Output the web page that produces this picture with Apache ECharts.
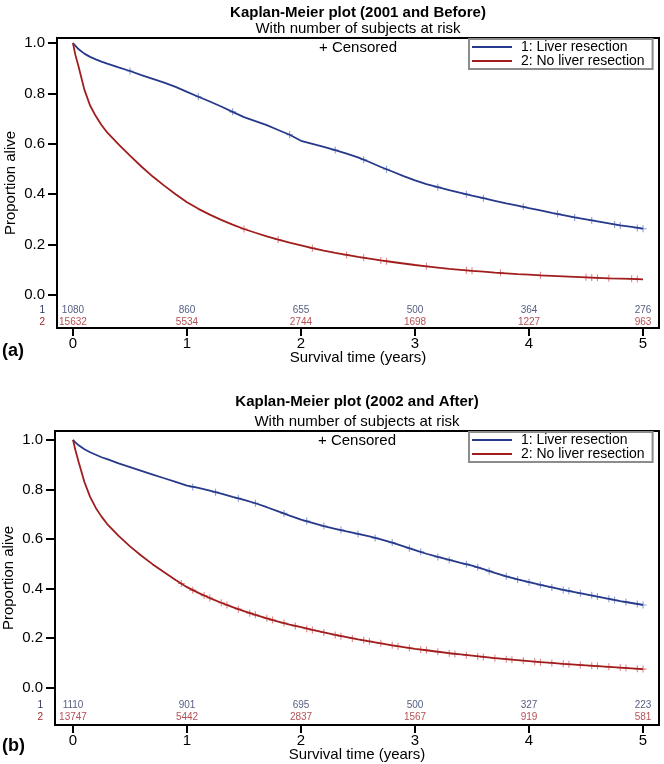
<!DOCTYPE html>
<html>
<head>
<meta charset="utf-8">
<script src="https://cdn.jsdelivr.net/npm/echarts@6/dist/echarts.min.js"></script>
<style>
html,body{margin:0;padding:0;background:#fff;}
#chart{width:664px;height:764px;}
</style>
</head>
<body>
<div id="chart"></div>
<script>
// ---------- data ----------
const groupNames = ['1: Liver resection', '2: No liver resection'];
const xTicks = [0, 1, 2, 3, 4, 5];
const yTicks = [0, 0.2, 0.4, 0.6, 0.8, 1.0];
const riskTimes = [0, 1, 2, 3, 4, 5];

// survival time grid (years)
const T = [0, 0.02, 0.05, 0.1, 0.15, 0.2, 0.25, 0.3, 0.4, 0.5, 0.6, 0.7, 0.8, 0.9, 1.0,
  1.1, 1.2, 1.3, 1.4, 1.5, 1.6, 1.7, 1.8, 1.9, 2.0, 2.1, 2.2, 2.3, 2.4, 2.5, 2.6, 2.7, 2.8, 2.9, 3.0,
  3.1, 3.2, 3.3, 3.4, 3.5, 3.6, 3.7, 3.8, 3.9, 4.0, 4.1, 4.2, 4.3, 4.4, 4.5, 4.6, 4.7, 4.8, 4.9, 5.0];

// Panel (a) 2001 and before
const survA1 = [1.000, 0.990, 0.975, 0.958, 0.945, 0.935, 0.926, 0.918, 0.903, 0.889, 0.873, 0.858, 0.843, 0.826, 0.806,
  0.787, 0.768, 0.748, 0.727, 0.706, 0.690, 0.674, 0.655, 0.636, 0.612, 0.600, 0.588, 0.575, 0.561, 0.546, 0.528, 0.508, 0.490, 0.472, 0.455,
  0.440, 0.428, 0.416, 0.405, 0.394, 0.384, 0.374, 0.364, 0.355, 0.345, 0.336, 0.326, 0.317, 0.308, 0.300, 0.292, 0.284, 0.276, 0.270, 0.263];
const survA2 = [1.000, 0.955, 0.905, 0.815, 0.752, 0.710, 0.675, 0.645, 0.598, 0.553, 0.510, 0.470, 0.434, 0.400, 0.368,
  0.342, 0.319, 0.298, 0.279, 0.262, 0.247, 0.233, 0.220, 0.208, 0.197, 0.186, 0.176, 0.167, 0.159, 0.151, 0.144, 0.137, 0.131, 0.125, 0.119,
  0.114, 0.109, 0.104, 0.100, 0.096, 0.093, 0.089, 0.086, 0.083, 0.081, 0.078, 0.076, 0.074, 0.072, 0.070, 0.068, 0.066, 0.065, 0.064, 0.062];
const censorA1 = [[0.5, 0.889], [1.1, 0.787], [1.4, 0.727], [1.9, 0.636], [2.3, 0.575], [2.55, 0.537], [2.75, 0.499],
  [3.2, 0.428], [3.45, 0.400], [3.6, 0.384], [3.95, 0.350], [4.25, 0.322], [4.4, 0.308], [4.55, 0.296], [4.75, 0.280],
  [4.8, 0.276], [4.95, 0.266], [5.0, 0.263]];
const censorA2 = [[1.5, 0.262], [1.8, 0.220], [2.1, 0.186], [2.4, 0.159], [2.55, 0.148], [2.7, 0.137], [2.75, 0.134],
  [3.1, 0.114], [3.45, 0.098], [3.5, 0.096], [3.75, 0.088], [4.1, 0.078], [4.5, 0.070], [4.55, 0.069], [4.6, 0.068],
  [4.7, 0.066], [4.9, 0.064], [4.95, 0.063]];
const riskA1 = [1080, 860, 655, 500, 364, 276];
const riskA2 = [15632, 5534, 2744, 1698, 1227, 963];

// Panel (b) 2002 and after
const survB1 = [1.000, 0.990, 0.978, 0.962, 0.950, 0.940, 0.930, 0.922, 0.905, 0.890, 0.875, 0.860, 0.845, 0.830, 0.815,
  0.806, 0.795, 0.783, 0.770, 0.758, 0.744, 0.728, 0.711, 0.694, 0.678, 0.665, 0.652, 0.641, 0.630, 0.620, 0.610, 0.598, 0.585, 0.570, 0.555,
  0.540, 0.527, 0.515, 0.503, 0.492, 0.478, 0.463, 0.449, 0.436, 0.425, 0.414, 0.404, 0.394, 0.385, 0.376, 0.367, 0.358, 0.349, 0.341, 0.333];
const survB2 = [1.000, 0.960, 0.910, 0.830, 0.770, 0.725, 0.690, 0.660, 0.612, 0.570, 0.532, 0.497, 0.465, 0.434, 0.405,
  0.382, 0.361, 0.342, 0.324, 0.308, 0.293, 0.279, 0.266, 0.254, 0.243, 0.232, 0.222, 0.212, 0.203, 0.194, 0.186, 0.178, 0.170, 0.163, 0.156,
  0.150, 0.144, 0.138, 0.133, 0.128, 0.123, 0.118, 0.114, 0.110, 0.106, 0.102, 0.099, 0.095, 0.092, 0.089, 0.086, 0.083, 0.080, 0.077, 0.074];
const censorB1 = [[1.05, 0.810], [1.25, 0.789], [1.45, 0.764], [1.6, 0.744], [1.85, 0.703], [2.05, 0.672], [2.2, 0.652],
  [2.35, 0.636], [2.5, 0.620], [2.65, 0.604], [2.8, 0.585], [2.95, 0.562], [3.05, 0.548], [3.2, 0.527], [3.3, 0.515],
  [3.45, 0.498], [3.55, 0.485], [3.65, 0.470], [3.8, 0.449], [3.9, 0.436], [4.0, 0.425], [4.1, 0.414], [4.2, 0.404],
  [4.3, 0.394], [4.35, 0.390], [4.45, 0.380], [4.55, 0.372], [4.6, 0.367], [4.7, 0.358], [4.75, 0.353], [4.85, 0.345],
  [4.95, 0.337], [5.0, 0.333]];
const censorB2 = [[0.95, 0.420], [1.05, 0.393], [1.15, 0.371], [1.2, 0.361], [1.3, 0.342], [1.35, 0.333], [1.45, 0.316],
  [1.55, 0.300], [1.6, 0.293], [1.7, 0.279], [1.75, 0.272], [1.85, 0.260], [1.95, 0.248], [2.05, 0.237], [2.1, 0.232],
  [2.2, 0.222], [2.3, 0.212], [2.35, 0.207], [2.45, 0.198], [2.55, 0.190], [2.6, 0.186], [2.7, 0.178], [2.8, 0.170],
  [2.85, 0.166], [2.95, 0.159], [3.05, 0.153], [3.1, 0.150], [3.2, 0.144], [3.3, 0.138], [3.35, 0.135], [3.45, 0.130],
  [3.55, 0.125], [3.6, 0.123], [3.7, 0.118], [3.8, 0.114], [3.85, 0.112], [3.95, 0.108], [4.05, 0.104], [4.1, 0.102],
  [4.2, 0.099], [4.3, 0.095], [4.35, 0.093], [4.45, 0.090], [4.55, 0.087], [4.6, 0.086], [4.7, 0.083], [4.8, 0.080],
  [4.85, 0.078], [4.95, 0.075], [5.0, 0.074]];
const riskB1 = [1110, 901, 695, 500, 327, 223];
const riskB2 = [13747, 5442, 2837, 1567, 919, 581];

// ---------- styling / layout ----------
const FONT = '"Liberation Sans", Arial, Helvetica, sans-serif';
const C1 = '#27398a', C2 = '#a11d1d';
const CEN1 = '#7088cc', CEN2 = '#d66b6b';
const RISK1 = '#2b3463', RISK2 = '#a0262a';
const PLUS = 'path://M4.2,0H5.8V4.2H10V5.8H5.8V10H4.2V5.8H0V4.2H4.2Z';

const panels = [
  { title: 'Kaplan-Meier plot (2001 and Before)', tag: '(a)', grid: { left: 57, top: 38, width: 602, height: 290 },
    xmin: -0.14, xmax: 5.14, ymin: -0.131, ymax: 1.02, row1: -0.06, row2: -0.107,
    s1: survA1, s2: survA2, c1: censorA1, c2: censorA2, r1: riskA1, r2: riskA2,
    titleTop: 5, subTop: 21, cenTop: 40, legendTop: 39, tagTop: 342 },
  { title: 'Kaplan-Meier plot (2002 and After)', tag: '(b)', grid: { left: 55, top: 431, width: 604, height: 294 },
    xmin: -0.158, xmax: 5.14, ymin: -0.152, ymax: 1.036, row1: -0.072, row2: -0.12,
    s1: survB1, s2: survB2, c1: censorB1, c2: censorB2, r1: riskB1, r2: riskB2,
    titleTop: 394, subTop: 414, cenTop: 433, legendTop: 432, tagTop: 737 }
];

const option = {
  animation: false,
  backgroundColor: '#fff',
  textStyle: { fontFamily: FONT },
  title: [], legend: [], grid: [], xAxis: [], yAxis: [], series: []
};

panels.forEach((p, k) => {
  const cx = p.grid.left + p.grid.width / 2;
  const ts = (size, weight) => ({ fontFamily: FONT, fontSize: size, fontWeight: weight, color: '#000' });
  option.title.push(
    { text: p.title, left: cx, top: p.titleTop, textAlign: 'center', padding: 0, textStyle: ts(15, 'bold') },
    { text: 'With number of subjects at risk', left: cx, top: p.subTop, textAlign: 'center', padding: 0, textStyle: ts(15, 'normal') },
    { text: '+ Censored', left: cx, top: p.cenTop, textAlign: 'center', padding: 0, textStyle: ts(15, 'normal') },
    { text: p.tag, left: 2, top: p.tagTop, padding: 0, textStyle: ts(18, 'bold') }
  );
  option.legend.push({
    orient: 'vertical', left: 469, top: p.legendTop, selectedMode: false,
    data: groupNames, icon: 'rect', itemWidth: 40, itemHeight: 2, itemGap: 0,
    formatter: n => ' ' + n,
    padding: [1, 8, 1, 3], borderColor: '#8c8c8c', borderWidth: 2, backgroundColor: '#fff',
    textStyle: { fontFamily: FONT, fontSize: 14, lineHeight: 14, color: '#000' }
  });
  option.grid.push(Object.assign({ show: true, borderColor: '#000', borderWidth: 2, containLabel: false, outerBoundsMode: 'none' }, p.grid));
  option.xAxis.push({
    gridIndex: k, type: 'value', min: p.xmin, max: p.xmax, position: 'bottom',
    axisLine: { show: false, onZero: false }, splitLine: { show: false },
    axisTick: { show: true, inside: false, customValues: xTicks, length: 8, lineStyle: { color: '#000', width: 2 } },
    axisLabel: { customValues: xTicks, margin: 8, fontSize: 15, color: '#000', fontFamily: FONT, formatter: v => String(v) },
    name: 'Survival time (years)', nameLocation: 'middle', nameGap: 22, nameMoveOverlap: false,
    nameTextStyle: { fontSize: 15, color: '#000', fontFamily: FONT }
  });
  const r1 = p.row1, r2 = p.row2;
  option.yAxis.push({
    gridIndex: k, type: 'value', min: p.ymin, max: p.ymax, position: 'left',
    axisLine: { show: false, onZero: false }, splitLine: { show: false },
    axisTick: { show: true, inside: false, customValues: yTicks, length: 9, lineStyle: { color: '#000', width: 2 } },
    axisLabel: {
      customValues: [r2, r1].concat(yTicks), margin: 12, fontSize: 15, color: '#000', fontFamily: FONT,
      formatter: v => Math.abs(v - r1) < 1e-6 ? '{a|1}' : (Math.abs(v - r2) < 1e-6 ? '{b|2}' : v.toFixed(1)),
      rich: { a: { fontSize: 10, color: RISK1, fontFamily: FONT }, b: { fontSize: 10, color: RISK2, fontFamily: FONT } }
    },
    name: 'Proportion alive', nameLocation: 'middle', nameGap: 39, nameMoveOverlap: false,
    nameTextStyle: { fontSize: 15, color: '#000', fontFamily: FONT }
  });
  const cens = (name, data, color) => ({
    name: name, type: 'scatter', xAxisIndex: k, yAxisIndex: k, data: data,
    symbol: PLUS, symbolSize: 7, itemStyle: { color: color }, silent: true
  });
  const line = (name, vals, color) => ({
    name: name, type: 'line', xAxisIndex: k, yAxisIndex: k,
    data: T.map((t, i) => [t, vals[i]]), showSymbol: false, symbol: 'none',
    lineStyle: { color: color, width: 1.8 }, itemStyle: { color: color }
  });
  const risk = (counts, rowY, color) => ({
    type: 'scatter', xAxisIndex: k, yAxisIndex: k, silent: true,
    data: riskTimes.map((t, i) => [t, rowY, counts[i]]),
    symbolSize: 1, itemStyle: { color: 'rgba(0,0,0,0)' },
    label: { show: true, position: 'inside', formatter: q => String(q.value[2]), fontSize: 10, color: color, fontFamily: FONT }
  });
  option.series.push(
    cens('censored 1', p.c1, CEN1), cens('censored 2', p.c2, CEN2),
    line(groupNames[0], p.s1, C1), line(groupNames[1], p.s2, C2),
    risk(p.r1, r1, RISK1), risk(p.r2, r2, RISK2)
  );
});

const chart = echarts.init(document.getElementById('chart'), null, { renderer: 'canvas' });
chart.setOption(option);
</script>
</body>
</html>
